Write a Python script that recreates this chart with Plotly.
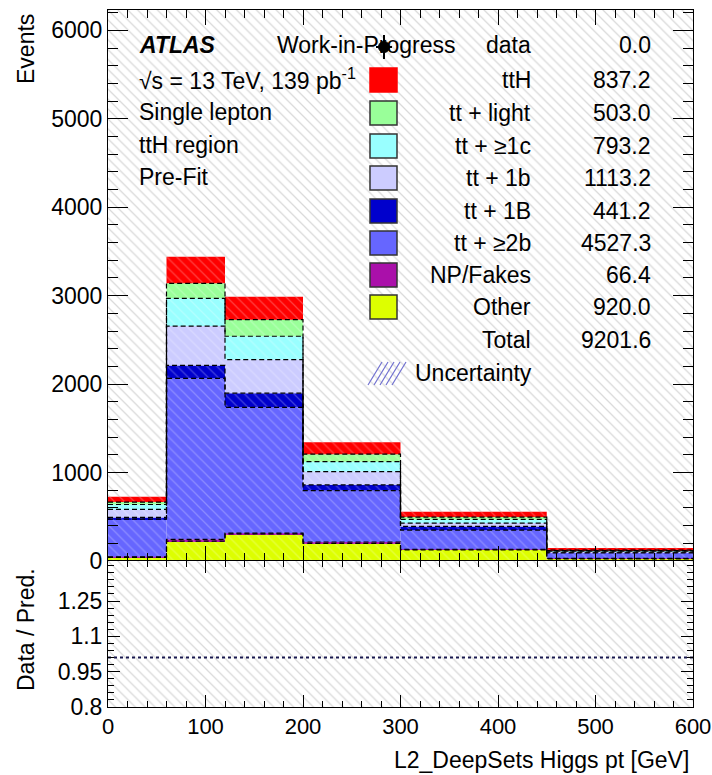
import numpy as np
import plotly.graph_objects as go

# ---------------- data ----------------
bin_edges = [0, 60, 120, 200, 300, 450, 600]
# stack order: bottom -> top
samples = ["Other", "NP/Fakes", "tt + ≥2b", "tt + 1B", "tt + 1b", "tt + ≥1c", "tt + light", "ttH"]
other   = [40, 225, 305, 200, 125, 25]
npfakes = [8, 20, 10, 15, 8, 5.4]
tt_2b   = [425, 1821, 1423, 581, 215, 62.3]
tt_1B   = [20, 145, 160, 65, 43, 8.2]
tt_1b   = [90, 445, 380, 150, 38, 10.2]
tt_1c   = [56, 314, 263, 112, 41, 7.2]
tt_light = [27, 170, 188, 85, 27, 6.0]
tth     = [60, 300, 260, 135, 60, 22.2]
data_counts = [0, 0, 0, 0, 0, 0]

legend_names = ["data", "ttH", "tt + light", "tt + ≥1c", "tt + 1b", "tt + 1B", "tt + ≥2b", "NP/Fakes", "Other", "Total"]
legend_values = ["0.0", "837.2", "503.0", "793.2", "1113.2", "441.2", "4527.3", "66.4", "920.0", "9201.6"]

main_yrange = [0, 6230]
ratio_yrange = [0.8, 1.42]
ratio_ticks = [0.8, 0.95, 1.1, 1.25]
ratio_ticktext = ["0.8", "0.95", "1.1", "1.25"]

colors = ["#ddff00", "#aa10aa", "#6666ff", "#0000cc", "#ccccff", "#99ffff", "#99ff99", "#ff0000"]
# ---------------------------------------

W, H = 712, 775
L, R, T, B = 108, 19, 10, 68
PW, PH = W - L - R, H - T - B
split_px = 561  # boundary between main and ratio panel
ratio_top = (707 - split_px) / PH

def px(x):
    return (x - L) / PW

def py(y):
    return (H - B - y) / PH

FONT = "Liberation Sans, Arial, Helvetica, sans-serif"
FS = 23

edges = np.array(bin_edges, dtype=float)
centers = (edges[:-1] + edges[1:]) / 2
widths = edges[1:] - edges[:-1]
stack = np.array([other, npfakes, tt_2b, tt_1B, tt_1b, tt_1c, tt_light, tth], dtype=float)
cum = np.cumsum(stack, axis=0)
bases = np.vstack([np.zeros(len(centers)), cum[:-1]])

fig = go.Figure()

# uncertainty hatch band (background), main & ratio
fig.add_trace(go.Bar(
    x=[(edges[0] + edges[-1]) / 2], width=[edges[-1] - edges[0]],
    base=[main_yrange[0]], y=[main_yrange[1] - main_yrange[0]],
    marker=dict(color="white", line=dict(width=0),
                pattern=dict(shape="\\", fgcolor="#b4b4b4", bgcolor="white", size=7, solidity=0.18)),
    xaxis="x", yaxis="y", showlegend=False, hoverinfo="skip"))
fig.add_trace(go.Bar(
    x=[(edges[0] + edges[-1]) / 2], width=[edges[-1] - edges[0]],
    base=[ratio_yrange[0]], y=[ratio_yrange[1] - ratio_yrange[0]],
    marker=dict(color="white", line=dict(width=0),
                pattern=dict(shape="\\", fgcolor="#b4b4b4", bgcolor="white", size=7, solidity=0.18)),
    xaxis="x2", yaxis="y2", showlegend=False, hoverinfo="skip"))

for i, name in enumerate(samples):
    fig.add_trace(go.Bar(
        x=centers, width=widths, y=stack[i], base=bases[i], name=name,
        marker=dict(color=colors[i], line=dict(width=0),
                    pattern=dict(shape="\\", fgcolor="rgba(255,255,255,0.5)", size=7,
                                 solidity=0.18, fillmode="overlay")),
        xaxis="x", yaxis="y", showlegend=False))

# dashed boundaries between stack components
for k in range(len(samples) - 1):
    lvl = cum[k]
    fig.add_trace(go.Scatter(
        x=edges, y=list(lvl) + [lvl[-1]], mode="lines", line_shape="hv",
        line=dict(color="black", width=1.2, dash="5px,3px"),
        xaxis="x", yaxis="y", showlegend=False, hoverinfo="skip"))

# ratio reference line at 1 (data / prediction)
fig.add_trace(go.Scatter(
    x=[edges[0], edges[-1]], y=[1.01, 1.01], mode="lines",
    line=dict(color="#1a1a50", width=2, dash="dot"),
    xaxis="x2", yaxis="y2", showlegend=False, hoverinfo="skip"))

tickfont = dict(family=FONT, size=FS, color="black")
xtickfont = dict(family=FONT, size=22, color="black")
common_x = dict(range=[edges[0], edges[-1]], showline=True, linecolor="black", linewidth=1,
                mirror="allticks", ticks="inside", dtick=100, tick0=0, showgrid=False,
                zeroline=False, tickcolor="black", automargin=False)

fig.update_layout(
    width=W, height=H, margin=dict(l=L, r=R, t=T, b=B, autoexpand=False),
    paper_bgcolor="white", plot_bgcolor="white", barmode="overlay",
    font=dict(family=FONT, size=FS, color="black"),
    xaxis=dict(**common_x, domain=[0, 1], anchor="y", ticklen=15, showticklabels=False,
               matches="x2",
               minor=dict(ticks="inside", ticklen=8, dtick=20, tickcolor="black", showgrid=False)),
    yaxis=dict(domain=[ratio_top, 1], range=main_yrange, showline=True, linecolor="black",
               linewidth=1, mirror="allticks", ticks="inside", ticklen=20, dtick=1000, tick0=0,
               showgrid=False, zeroline=False, tickfont=tickfont, anchor="x", tickcolor="black",
               automargin=False,
               minor=dict(ticks="inside", ticklen=10, dtick=200, tickcolor="black", showgrid=False)),
    xaxis2=dict(**common_x, domain=[0, 1], anchor="y2", ticklen=12, tickfont=xtickfont,
                ticklabeloverflow="allow",
                minor=dict(ticks="inside", ticklen=6, dtick=20, tickcolor="black", showgrid=False)),
    yaxis2=dict(domain=[0, ratio_top], range=ratio_yrange, showline=True, linecolor="black",
                linewidth=1, mirror="allticks", ticks="inside", ticklen=12, tickvals=ratio_ticks,
                ticktext=ratio_ticktext, showgrid=False, zeroline=False, tickfont=tickfont,
                anchor="x2", tickcolor="black", automargin=False,
                minor=dict(ticks="inside", ticklen=6, dtick=0.03, tick0=0.8, tickcolor="black",
                           showgrid=False)),
)

ann = []
shapes = []

def text(x, y, s, xanchor="left", size=FS, **kw):
    ann.append(dict(x=px(x), y=py(y), xref="paper", yref="paper", text=s, showarrow=False,
                    xanchor=xanchor, yanchor="middle", font=dict(family=FONT, size=size, color="black"), **kw))

# axis titles
ann.append(dict(x=px(26), y=py(12), xref="paper", yref="paper", text="Events", textangle=-90,
                showarrow=False, xanchor="center", yanchor="top", font=dict(family=FONT, size=FS)))
ann.append(dict(x=px(26), y=py(630), xref="paper", yref="paper", text="Data / Pred.", textangle=-90,
                showarrow=False, xanchor="center", yanchor="middle", font=dict(family=FONT, size=FS)))
text(691, 760, "L2_DeepSets Higgs pt [GeV]", xanchor="right")

# ATLAS label block
text(137, 45, "<b><i>ATLAS</i></b>")
text(275, 45, "Work-in-Progress")
text(137, 79, "√s = 13 TeV, 139 pb<sup>-1</sup>")
text(137, 112, "Single lepton")
text(137, 145, "ttH region")
text(137, 177, "Pre-Fit")

# legend
row_y = [45, 80, 113, 146, 178, 211, 243, 275, 307, 340]
for name, val, yy in zip(legend_names, legend_values, row_y):
    text(533, yy, name, xanchor="right")
    text(653, yy, val, xanchor="right")

# legend boxes (samples, top row first = ttH)
box_colors = colors[::-1]
for c, yy in zip(box_colors, row_y[1:9]):
    shapes.append(dict(type="rect", xref="paper", yref="paper", x0=px(370), x1=px(397),
                       y0=py(yy + 12), y1=py(yy - 12), fillcolor=c,
                       line=dict(color="#333333" if c != "#ff0000" else "#ff0000", width=1.5)))

# data marker in legend
shapes.append(dict(type="line", xref="paper", yref="paper", x0=px(384), x1=px(384),
                   y0=py(35), y1=py(59), line=dict(color="black", width=2)))
shapes.append(dict(type="line", xref="paper", yref="paper", x0=px(376), x1=px(392),
                   y0=py(47), y1=py(47), line=dict(color="black", width=2)))
shapes.append(dict(type="circle", xref="paper", yref="paper", x0=px(378.5), x1=px(389.5),
                   y0=py(52.5), y1=py(41.5), fillcolor="black", line=dict(color="black", width=1)))

# uncertainty legend hatch
text(413, 373, "Uncertainty")
for k in range(5):
    x0 = 368 + k * 6
    shapes.append(dict(type="line", xref="paper", yref="paper", x0=px(x0), x1=px(x0 + 14),
                       y0=py(385), y1=py(362), line=dict(color="#7070d0", width=1.2)))

fig.update_layout(annotations=ann, shapes=shapes)
fig.write_html("out.html")
